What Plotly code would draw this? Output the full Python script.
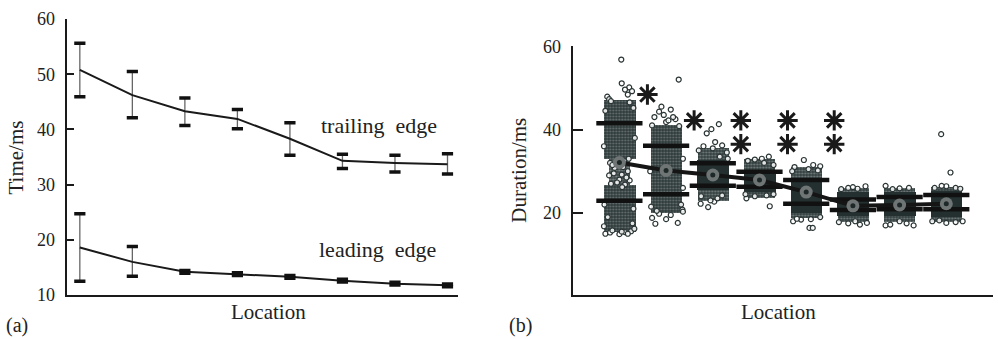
import plotly.graph_objects as go

# ---------------- data: panel (a) ----------------
loc = [1, 2, 3, 4, 5, 6, 7, 8]
trail_mean = [50.8, 46.2, 43.3, 41.9, 38.3, 34.3, 33.9, 33.7]
trail_hi = [55.6, 50.5, 45.7, 43.6, 41.2, 35.5, 35.3, 35.6]
trail_lo = [45.9, 42.1, 40.7, 40.1, 35.3, 32.9, 32.3, 31.9]
lead_mean = [18.6, 16.0, 14.2, 13.8, 13.3, 12.6, 12.05, 11.75]
lead_hi = [24.7, 18.8, 14.45, 14.05, 13.55, 12.85, 12.3, 12.0]
lead_lo = [12.5, 13.4, 13.95, 13.55, 13.05, 12.35, 11.8, 11.5]

# ---------------- data: panel (b) ----------------
groups = [1, 2, 3, 4, 5, 6, 7, 8]
dur_mean = [32.1, 30.2, 29.1, 27.9, 25.0, 21.7, 21.9, 22.2]
band_upper = [41.5, 36.1, 31.9, 29.9, 27.9, 23.2, 23.8, 24.3]
band_lower = [22.9, 24.5, 26.5, 26.3, 22.2, 20.7, 20.9, 20.9]

sparse_x = [1, 1, 2]
sparse_low = [15.3, 33.0, 20.0]
sparse_high = [26.8, 47.0, 41.0]

pinch_x = [1]
pinch_low = [26.8]
pinch_high = [33.0]

halo_x = [3, 4, 5, 6, 7, 8]
halo_low = [22.8, 23.5, 18.8, 17.8, 17.8, 17.8]
halo_high = [35.5, 33.0, 31.0, 26.0, 26.0, 26.2]

core_x = [3, 4, 5, 6, 7, 8]
core_low = [25.6, 25.1, 20.0, 19.2, 19.2, 19.0]
core_high = [32.7, 30.3, 28.3, 25.1, 25.1, 25.3]

# individual visible points (group, jitter offset, value)
pts_group = (
    [1] * 46 + [2] * 26 + [3] * 18 + [4] * 12 + [5] * 14 + [6] * 10 + [7] * 9 + [8] * 12
)
pts_off = [
    # group 1
    0.04, 0.05, 0.21, 0.27, 0.12, 0.18, -0.26, -0.22, -0.18, 0.22, 0.30, -0.30,
    -0.12, 0.00, 0.08, -0.05, 0.18, -0.20, 0.12, -0.22, 0.22, 0.10, -0.10, 0.20,
    -0.15, 0.05, -0.02, 0.15, -0.18, 0.06,
    -0.30, -0.20, 0.00, 0.12, 0.25, 0.32, -0.33, -0.15, 0.05, 0.28, -0.25, 0.18,
    0.33, -0.33, 0.30, -0.32,
    # group 2
    0.27, -0.15, -0.05, 0.10, -0.25, 0.20, 0.00, -0.30, 0.28, 0.15, -0.10, 0.05,
    -0.30, -0.23, 0.00, 0.25, 0.35, 0.36, -0.15, 0.10, 0.32, -0.32, 0.36, -0.34,
    0.36, -0.20,
    # group 3
    -0.13, -0.03, 0.13, -0.26, -0.10, 0.03, -0.30, -0.20, 0.00, 0.20, 0.30, 0.05,
    -0.25, 0.10, 0.20, -0.05, 0.15, 0.32,
    # group 4
    0.20, -0.25, -0.10, 0.05, 0.30, 0.10, -0.28, 0.22, -0.10, 0.15, 0.30, -0.30,
    # group 5
    -0.05, -0.25, 0.15, 0.30, 0.05, -0.30, 0.25, 0.07, 0.14, -0.11, -0.28, 0.10,
    0.30, -0.20,
    # group 6
    0.27, -0.25, -0.10, 0.10, 0.00, -0.30, -0.10, 0.15, 0.30, 0.05,
    # group 7
    -0.30, 0.00, 0.20, -0.15, -0.30, -0.20, 0.15, 0.30, 0.00,
    # group 8
    -0.11, 0.09, -0.25, 0.00, 0.20, 0.30, -0.10, -0.30, 0.00, 0.20, 0.35, -0.15,
]
pts_val = [
    # group 1
    56.8, 51.1, 50.1, 49.2, 49.6, 48.4, 47.9, 47.3, 46.8, 46.5, 45.2, 44.5,
    29.5, 28.0, 31.0, 27.3, 30.0, 32.0, 26.8, 29.0, 27.8, 32.5, 30.8, 33.0,
    31.5, 29.2, 32.8, 28.5, 27.0, 26.2,
    15.0, 15.3, 14.9, 15.4, 15.6, 16.2, 16.8, 15.8, 15.5, 17.5, 19.0, 15.0,
    38.0, 36.0, 21.0, 22.0,
    # group 2
    52.0, 44.3, 43.5, 44.8, 43.0, 42.5, 41.8, 41.0, 40.8, 43.0, 45.5, 42.2,
    18.8, 17.4, 18.5, 17.6, 20.8, 20.3, 19.8, 19.5, 22.0, 21.5, 26.0, 30.0,
    33.0, 20.5,
    # group 3
    39.1, 40.1, 41.3, 22.2, 21.4, 22.7, 35.0, 36.0, 35.5, 36.2, 34.5, 37.0,
    24.0, 23.5, 24.2, 23.0, 33.5, 33.0,
    # group 4
    33.5, 32.5, 32.8, 33.0, 31.5, 32.0, 23.5, 21.6, 24.0, 24.2, 24.5, 24.5,
    # group 5
    32.7, 31.0, 31.5, 31.2, 30.5, 30.0, 30.2, 16.4, 16.4, 18.4, 18.0, 18.5,
    19.0, 18.6,
    # group 6
    26.4, 25.7, 26.0, 25.8, 26.2, 17.8, 17.5, 17.2, 17.6, 18.0,
    # group 7
    26.5, 25.9, 26.0, 25.7, 17.0, 17.2, 17.5, 17.0, 18.0,
    # group 8
    38.9, 29.7, 26.0, 26.4, 26.0, 25.8, 26.5, 18.0, 17.6, 17.8, 18.0, 18.2,
]
star_x = [1.6, 2.6, 3.6, 3.6, 4.6, 4.6, 5.6, 5.6]
star_y = [48.4, 42.2, 42.2, 36.5, 42.2, 36.5, 42.2, 36.5]

FONT = "Liberation Serif, Times New Roman, serif"
INK = "#1a1a1a"

fig = go.Figure()

# ---------- panel (a) ----------
for mean, hi, lo in [(trail_mean, trail_hi, trail_lo), (lead_mean, lead_hi, lead_lo)]:
    fig.add_trace(go.Scatter(
        x=loc, y=mean, mode="lines", line=dict(color=INK, width=2),
        error_y=dict(type="data", symmetric=False,
                     array=[h - m for h, m in zip(hi, mean)],
                     arrayminus=[m - l for m, l in zip(mean, lo)],
                     color="#666666", thickness=1.3, width=0),
        xaxis="x", yaxis="y", showlegend=False, hoverinfo="skip"))
    fig.add_trace(go.Scatter(
        x=loc + loc, y=hi + lo, mode="markers",
        marker=dict(symbol="line-ew", size=8, color="#111",
                    line=dict(color="#111", width=3.5)),
        xaxis="x", yaxis="y", showlegend=False, hoverinfo="skip"))

# ---------- panel (b) ----------
fig.add_trace(go.Bar(
    x=pinch_x, y=[h - l for h, l in zip(pinch_high, pinch_low)], base=pinch_low,
    width=0.45, marker=dict(color="#4a5555", line=dict(width=0),
                            pattern=dict(shape=".", fgcolor="#c4c8c8", bgcolor="#3c4747",
                                         size=3, solidity=0.4)),
    xaxis="x2", yaxis="y2", showlegend=False, hoverinfo="skip"))
fig.add_trace(go.Bar(
    x=sparse_x, y=[h - l for h, l in zip(sparse_high, sparse_low)], base=sparse_low,
    width=0.68, marker=dict(color="#3a4545", line=dict(width=0),
                            pattern=dict(shape=".", fgcolor="#a7adad", bgcolor="#2f3a3a",
                                         size=3, solidity=0.3)),
    xaxis="x2", yaxis="y2", showlegend=False, hoverinfo="skip"))
fig.add_trace(go.Bar(
    x=halo_x, y=[h - l for h, l in zip(halo_high, halo_low)], base=halo_low,
    width=0.66, marker=dict(color="#5a6464", line=dict(width=0),
                            pattern=dict(shape=".", fgcolor="#b9bebe", bgcolor="#334040",
                                         size=3, solidity=0.35)),
    xaxis="x2", yaxis="y2", showlegend=False, hoverinfo="skip"))
fig.add_trace(go.Bar(
    x=core_x, y=[h - l for h, l in zip(core_high, core_low)], base=core_low,
    width=0.68, marker=dict(color="#243030", line=dict(width=0)),
    xaxis="x2", yaxis="y2", showlegend=False, hoverinfo="skip"))
fig.add_trace(go.Scatter(
    x=[g + o for g, o in zip(pts_group, pts_off)], y=pts_val, mode="markers",
    marker=dict(symbol="circle", size=5, color="rgba(255,255,255,0.85)",
                line=dict(color="#2a3434", width=1.2)),
    xaxis="x2", yaxis="y2", showlegend=False, hoverinfo="skip"))
fig.add_trace(go.Scatter(
    x=groups + groups, y=band_upper + band_lower, mode="markers",
    marker=dict(symbol="line-ew", size=33, color="#111",
                line=dict(color="#111", width=4.5)),
    xaxis="x2", yaxis="y2", showlegend=False, hoverinfo="skip"))
fig.add_trace(go.Scatter(
    x=groups, y=dur_mean, mode="lines", line=dict(color="#151515", width=4),
    xaxis="x2", yaxis="y2", showlegend=False, hoverinfo="skip"))
fig.add_trace(go.Scatter(
    x=groups, y=dur_mean, mode="markers",
    marker=dict(symbol="circle", size=13, color="#6f7474", line=dict(width=0)),
    xaxis="x2", yaxis="y2", showlegend=False, hoverinfo="skip"))
fig.add_trace(go.Scatter(
    x=groups, y=dur_mean, mode="markers",
    marker=dict(symbol="circle", size=5, color="#1e2828", line=dict(width=0)),
    xaxis="x2", yaxis="y2", showlegend=False, hoverinfo="skip"))
fig.add_trace(go.Scatter(
    x=star_x, y=star_y, mode="markers",
    marker=dict(symbol="asterisk-open", size=17, color=INK,
                line=dict(color=INK, width=3)),
    xaxis="x2", yaxis="y2", showlegend=False, hoverinfo="skip"))

W, H = 998, 339
T, B = 19, 44
PH = H - T - B


def xp(px):
    return px / W


def yp(py):
    return 1 - (py - T) / PH


axis_common = dict(showline=True, linecolor=INK, linewidth=2, showgrid=False,
                   zeroline=False, ticks="inside", tickcolor=INK, tickwidth=2,
                   tickfont=dict(family=FONT, size=18, color="#222"))

fig.update_layout(
    width=W, height=H, margin=dict(l=0, r=0, t=T, b=B),
    paper_bgcolor="white", plot_bgcolor="white", barmode="overlay", bargap=0,
    font=dict(family=FONT, color="#222"),
    xaxis=dict(domain=[xp(66.7), xp(458)], range=[0.75, 8.2], showline=True,
               linecolor=INK, linewidth=2, showgrid=False, zeroline=False,
               showticklabels=False, ticks=""),
    yaxis=dict(domain=[0, 1], range=[10, 60], tickvals=[10, 20, 30, 40, 50, 60],
               ticklen=7, ticklabelstandoff=6, anchor="x", **axis_common),
    xaxis2=dict(domain=[xp(572.7), xp(993)], range=[0, 9], showline=True,
                linecolor=INK, linewidth=2, showgrid=False, zeroline=False,
                showticklabels=False, ticks="", anchor="y2"),
    yaxis2=dict(domain=[0, (295 - 46) / PH], range=[0.3, 60.05], tickvals=[20, 40, 60],
                ticklen=10, ticklabelstandoff=6, anchor="x2", **axis_common),
)

ann_font = dict(family=FONT, size=21, color="#222")
annotations = [
    dict(text="trailing  edge", x=xp(378.7), y=yp(126), size=22),
    dict(text="leading  edge", x=xp(377.5), y=yp(249), size=22),
    dict(text="Location", x=xp(268.5), y=yp(312), size=21),
    dict(text="Location", x=xp(778.3), y=yp(312), size=21),
]
for a in annotations:
    fig.add_annotation(text=a["text"], x=a["x"], y=a["y"], xref="paper", yref="paper",
                       xanchor="center", yanchor="middle", showarrow=False,
                       font=dict(family=FONT, size=a["size"], color="#222"))
fig.add_annotation(text="Time/ms", x=xp(15), y=yp(157.5), xref="paper", yref="paper",
                   textangle=-90, xanchor="center", yanchor="middle", showarrow=False,
                   font=ann_font)
fig.add_annotation(text="Duration/ms", x=xp(519), y=yp(170.7), xref="paper", yref="paper",
                   textangle=-90, xanchor="center", yanchor="middle", showarrow=False,
                   font=ann_font)
fig.add_annotation(text="(a)", x=xp(4), y=yp(325), xref="paper", yref="paper",
                   xanchor="left", yanchor="middle", showarrow=False,
                   font=dict(family=FONT, size=20, color="#222"))
fig.add_annotation(text="(b)", x=xp(507), y=yp(325), xref="paper", yref="paper",
                   xanchor="left", yanchor="middle", showarrow=False,
                   font=dict(family=FONT, size=20, color="#222"))

fig.write_html("out.html")
